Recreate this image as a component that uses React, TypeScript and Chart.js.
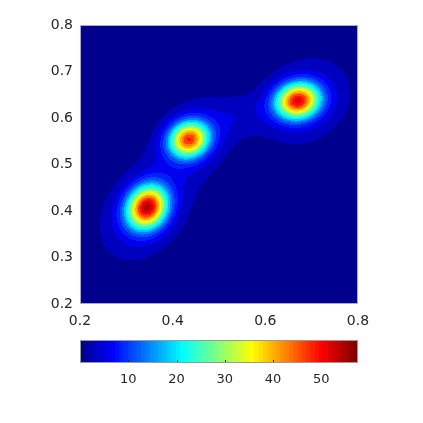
import React, { useEffect, useRef } from "react";
import { Chart, registerables } from "chart.js";
Chart.register(...registerables);

// Axis ticks
const xTicks = [0.2, 0.4, 0.6, 0.8];
const yTicks = [0.2, 0.3, 0.4, 0.5, 0.6, 0.7, 0.8];
const xRange = [0.2, 0.8];
const yRange = [0.2, 0.8];

// Colorbar
const cbarTicks = [10, 20, 30, 40, 50];
const cRange = [0, 57.6];
const nColors = 64;
const nLevels = 20;

// Density components: sharp core + broad halo for each peak, plus a faint ridge between peaks 2 and 3
const compX = [0.345, 0.338, 0.435, 0.445, 0.67, 0.685, 0.548];
const compY = [0.408, 0.395, 0.554, 0.555, 0.637, 0.636, 0.604];
const compSX = [0.029, 0.066, 0.029, 0.062, 0.032, 0.072, 0.05];
const compSY = [0.031, 0.07, 0.026, 0.064, 0.026, 0.068, 0.03];
const compRho = [0.15, 0.3, 0.1, 0.3, 0.1, 0.2, 0.3];
const compAmp = [48, 8, 42, 7, 46, 7, 2.6];

const FONT = "'DejaVu Sans', 'Liberation Sans', sans-serif";
const TEXT = "#262626";

function jetMap(m: number): number[][] {
  const n = Math.ceil(m / 4);
  const u: number[] = [];
  for (let i = 1; i <= n; i++) u.push(i / n);
  for (let i = 1; i < n; i++) u.push(1);
  for (let i = n; i >= 1; i--) u.push(i / n);
  const gOff = Math.ceil(n / 2) - (m % 4 === 1 ? 1 : 0);
  const R = new Array(m).fill(0);
  const G = new Array(m).fill(0);
  const B = new Array(m).fill(0);
  for (let k = 0; k < u.length; k++) {
    const g = gOff + k + 1;
    const r = g + n;
    const b = g - n;
    if (g >= 1 && g <= m) G[g - 1] = u[k];
    if (r >= 1 && r <= m) R[r - 1] = u[k];
    if (b >= 1 && b <= m) B[b - 1] = u[k];
  }
  return R.map((_, i) => [Math.round(R[i] * 255), Math.round(G[i] * 255), Math.round(B[i] * 255)]);
}
const JET = jetMap(nColors);

function field(x: number, y: number): number {
  let s = 0;
  for (let k = 0; k < compX.length; k++) {
    const dx = (x - compX[k]) / compSX[k];
    const dy = (y - compY[k]) / compSY[k];
    const r = compRho[k];
    const q = (dx * dx - 2 * r * dx * dy + dy * dy) / (1 - r * r);
    s += compAmp[k] * Math.exp(-0.5 * q);
  }
  return s;
}

function colorFor(v: number): number[] {
  const step = (cRange[1] - cRange[0]) / nLevels;
  let L = Math.floor((v - cRange[0]) / step);
  if (L < 0) L = 0;
  const lv = cRange[0] + L * step;
  let idx = Math.floor(((lv - cRange[0]) / (cRange[1] - cRange[0])) * nColors);
  if (idx < 0) idx = 0;
  if (idx > nColors - 1) idx = nColors - 1;
  return JET[idx];
}

const heatPlugin = {
  id: "heat",
  beforeDatasetsDraw(chart: any) {
    const { ctx, chartArea: a, scales } = chart;
    const x0 = Math.round(a.left);
    const y0 = Math.round(a.top);
    const w = Math.round(a.right) - x0;
    const h = Math.round(a.bottom) - y0;
    const img = ctx.createImageData(w, h);
    const d = img.data;
    for (let j = 0; j < h; j++) {
      const yv = scales.y.getValueForPixel(y0 + j + 0.5);
      for (let i = 0; i < w; i++) {
        const xv = scales.x.getValueForPixel(x0 + i + 0.5);
        const c = colorFor(field(xv, yv));
        const p = (j * w + i) * 4;
        d[p] = c[0];
        d[p + 1] = c[1];
        d[p + 2] = c[2];
        d[p + 3] = 255;
      }
    }
    ctx.putImageData(img, x0, y0);
  },
  afterDatasetsDraw(chart: any) {
    const { ctx, chartArea: a } = chart;
    ctx.save();
    ctx.strokeStyle = "#a8a8d0";
    ctx.lineWidth = 1;
    ctx.strokeRect(Math.round(a.left) + 0.5, Math.round(a.top) + 0.5, Math.round(a.right) - Math.round(a.left) - 1, Math.round(a.bottom) - Math.round(a.top) - 1);
    ctx.restore();
  },
};

const cbarPlugin = {
  id: "cbarFrame",
  afterDatasetsDraw(chart: any) {
    const { ctx, chartArea: a, scales } = chart;
    ctx.save();
    ctx.strokeStyle = "#262626";
    ctx.lineWidth = 1;
    for (const t of cbarTicks) {
      const px = Math.round(scales.x.getPixelForValue(t)) + 0.5;
      ctx.beginPath();
      ctx.moveTo(px, a.bottom);
      ctx.lineTo(px, a.bottom - 3);
      ctx.stroke();
    }
    ctx.strokeStyle = "#9a9a9a";
    ctx.strokeRect(Math.round(a.left) + 0.5, Math.round(a.top) + 0.5, Math.round(a.right) - Math.round(a.left) - 1, Math.round(a.bottom) - Math.round(a.top) - 1);
    ctx.restore();
  },
};

export default function App() {
  const mainRef = useRef<HTMLCanvasElement>(null);
  const cbarRef = useRef<HTMLCanvasElement>(null);

  useEffect(() => {
    const main = new Chart(mainRef.current as HTMLCanvasElement, {
      type: "scatter",
      data: { datasets: [{ data: [] }] },
      options: {
        animation: false,
        responsive: false,
        events: [],
        layout: { padding: { left: 0, right: 65, top: 25, bottom: 0 } },
        plugins: { legend: { display: false }, tooltip: { enabled: false } },
        scales: {
          x: {
            type: "linear",
            min: xRange[0],
            max: xRange[1],
            grid: { display: false, drawTicks: false },
            border: { display: false },
            afterBuildTicks: (s: any) => {
              s.ticks = xTicks.map((v) => ({ value: v }));
            },
            afterFit: (s: any) => {
              s.height = 26;
            },
            ticks: {
              padding: 9,
              autoSkip: false,
              maxRotation: 0,
              color: TEXT,
              font: { family: FONT, size: 14 },
              callback: (v: any) => Number(v).toFixed(1),
            },
          },
          y: {
            type: "linear",
            min: yRange[0],
            max: yRange[1],
            grid: { display: false, drawTicks: false },
            border: { display: false },
            afterBuildTicks: (s: any) => {
              s.ticks = yTicks.map((v) => ({ value: v }));
            },
            afterFit: (s: any) => {
              s.width = 80;
            },
            ticks: {
              padding: 7,
              autoSkip: false,
              color: TEXT,
              font: { family: FONT, size: 14 },
              callback: (v: any) => Number(v).toFixed(1),
            },
          },
        },
      } as any,
      plugins: [heatPlugin],
    });

    const step = (cRange[1] - cRange[0]) / nColors;
    const bands = JET.map((c, i) => ({
      data: [[cRange[0] + i * step, cRange[0] + (i + 1) * step]],
      backgroundColor: `rgb(${c[0]},${c[1]},${c[2]})`,
      borderWidth: 0,
      grouped: false,
      barPercentage: 1,
      categoryPercentage: 1,
    }));

    const cbar = new Chart(cbarRef.current as HTMLCanvasElement, {
      type: "bar",
      data: { labels: ["cb"], datasets: bands as any },
      options: {
        indexAxis: "y",
        animation: false,
        responsive: false,
        events: [],
        layout: { padding: { left: 80, right: 65, top: 10, bottom: 0 } },
        plugins: { legend: { display: false }, tooltip: { enabled: false } },
        scales: {
          x: {
            type: "linear",
            min: cRange[0],
            max: cRange[1],
            grid: { display: false, drawTicks: false },
            border: { display: false },
            afterBuildTicks: (s: any) => {
              s.ticks = cbarTicks.map((v) => ({ value: v }));
            },
            afterFit: (s: any) => {
              s.height = 37;
            },
            ticks: {
              padding: 9,
              autoSkip: false,
              maxRotation: 0,
              color: TEXT,
              font: { family: FONT, size: 13 },
            },
          },
          y: { display: false },
        },
      } as any,
      plugins: [cbarPlugin],
    });

    return () => {
      main.destroy();
      cbar.destroy();
    };
  }, []);

  return (
    <div style={{ position: "fixed", left: 0, top: 0, width: 423, height: 423, background: "#ffffff" }}>
      <canvas ref={mainRef} width={423} height={330} style={{ position: "absolute", left: 0, top: 0, display: "block" }} />
      <canvas ref={cbarRef} width={423} height={70} style={{ position: "absolute", left: 0, top: 330, display: "block" }} />
    </div>
  );
}
